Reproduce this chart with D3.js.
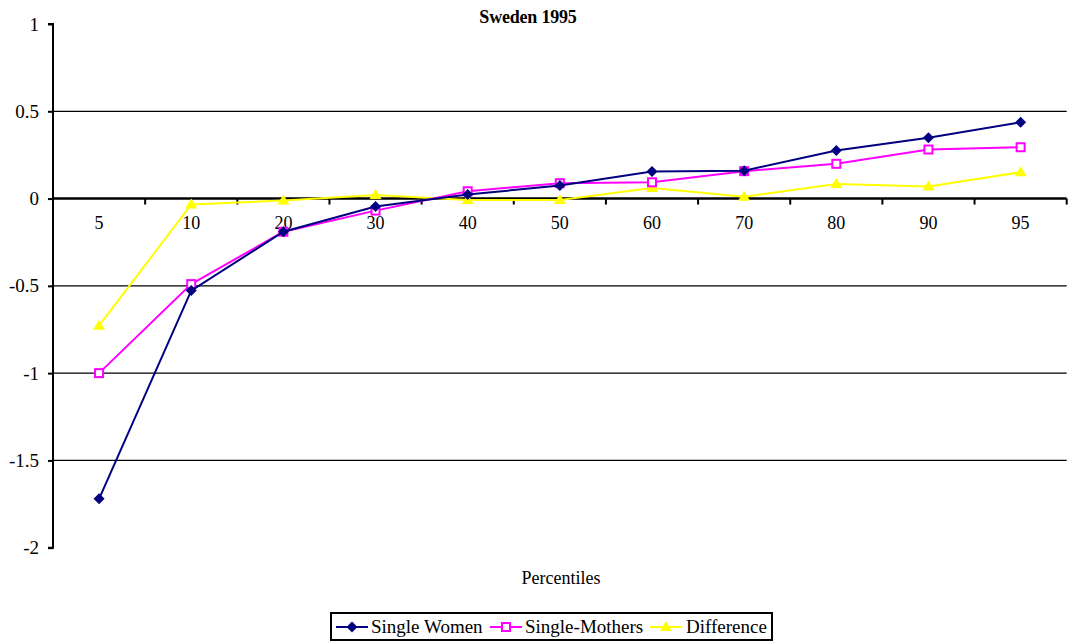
<!DOCTYPE html>
<html>
<head>
<meta charset="utf-8">
<script src="https://cdn.jsdelivr.net/npm/d3@7"></script>
<style>
  html, body { margin: 0; padding: 0; background: #fff; }
  svg { display: block; }
</style>
</head>
<body>
<script>
const categories = ["5", "10", "20", "30", "40", "50", "60", "70", "80", "90", "95"];
const singleWomen = [-1.72, -0.527, -0.19, -0.046, 0.023, 0.075, 0.155, 0.16, 0.275, 0.348, 0.437];
const singleMothers = [-1.0, -0.49, -0.19, -0.069, 0.042, 0.088, 0.093, 0.157, 0.199, 0.281, 0.294];
const difference = [-0.728, -0.034, -0.011, 0.021, -0.008, -0.008, 0.061, 0.011, 0.084, 0.069, 0.151];
const yTicks = [1, 0.5, 0, -0.5, -1, -1.5, -2];
const seriesNames = ["Single Women", "Single-Mothers", "Difference"];

const FONT = "'Liberation Serif', 'DejaVu Serif', 'Times New Roman', serif";
const W = 1069, H = 643;
const pLeft = 53, pRight = 1066.7, pTop = 24, pBottom = 547.7;

const svg = d3.select("body").append("svg").attr("width", W).attr("height", H);

const x = d3.scaleBand().domain(categories).range([pLeft, pRight]).padding(0);
const y = d3.scaleLinear().domain([-2, 1]).range([pBottom, pTop]);

// Gridlines
svg.append("g").selectAll("line")
  .data(yTicks.filter(v => v !== 1 && v !== -2 && v !== 0))
  .join("line")
  .attr("x1", pLeft).attr("x2", pRight)
  .attr("y1", d => y(d)).attr("y2", d => y(d))
  .attr("stroke", "#000").attr("stroke-width", 1.2);

// Y axis
const yAxis = d3.axisLeft(y).tickValues(yTicks).tickSize(5).tickPadding(9)
  .tickFormat(d => String(d));
const gy = svg.append("g").attr("transform", `translate(${pLeft},0)`).call(yAxis);
gy.attr("font-family", null);
gy.select(".domain").attr("stroke", "#000").attr("stroke-width", 2).attr("d", `M-5,${y(1)}H0V${y(-2)}H-5`);
gy.selectAll(".tick line").attr("stroke", "#000").attr("stroke-width", 2);
gy.selectAll(".tick text").style("font-size", "19px").style("font-family", FONT).attr("fill", "#000");

// X axis at zero
const xAxis = d3.axisBottom(x).tickSize(0).tickPadding(18);
const gx = svg.append("g").attr("transform", `translate(0,${y(0)})`).call(xAxis);
gx.attr("font-family", null);
gx.select(".domain").attr("stroke", "#000").attr("stroke-width", 2.5).attr("d", `M${pLeft},0H${pRight}`);
gx.selectAll(".tick text").style("font-size", "18px").style("font-family", FONT).attr("fill", "#000");
// boundary ticks
gx.append("g").selectAll("line")
  .data(categories.map((c, i) => i + 1))
  .join("line")
  .attr("x1", i => pLeft + x.step() * i).attr("x2", i => pLeft + x.step() * i)
  .attr("y1", 0).attr("y2", 6)
  .attr("stroke", "#000").attr("stroke-width", 2);

const cx = c => x(c) + x.bandwidth() / 2;
const line = d3.line().x((d, i) => cx(categories[i])).y(d => y(d));

const series = [
  { name: seriesNames[0], values: singleWomen, color: "#000080", marker: "diamond" },
  { name: seriesNames[1], values: singleMothers, color: "#FF00FF", marker: "square" },
  { name: seriesNames[2], values: difference, color: "#FFFF00", marker: "triangle" }
];

function drawMarker(g, type, color, px, py) {
  if (type === "diamond") {
    g.append("path").attr("d", `M${px},${py - 5.5}L${px + 5.5},${py}L${px},${py + 5.5}L${px - 5.5},${py}Z`)
      .attr("fill", color);
  } else if (type === "square") {
    g.append("rect").attr("x", px - 4).attr("y", py - 4).attr("width", 8).attr("height", 8)
      .attr("fill", "#fff").attr("stroke", color).attr("stroke-width", 2);
  } else {
    g.append("path").attr("d", `M${px},${py - 6}L${px + 6},${py + 4}L${px - 6},${py + 4}Z`).attr("fill", color);
  }
}

[series[2], series[1], series[0]].forEach(s => {
  const g = svg.append("g");
  g.append("path").datum(s.values).attr("d", line)
    .attr("fill", "none").attr("stroke", s.color).attr("stroke-width", 2);
  s.values.forEach((v, i) => drawMarker(g, s.marker, s.color, cx(categories[i]), y(v)));
});

// Title
svg.append("text").attr("x", 528).attr("y", 23).attr("text-anchor", "middle")
  .style("font-family", FONT)
  .style("font-size", "18px").style("font-weight", "bold").style("letter-spacing", "-0.2px")
  .text("Sweden 1995");

// X axis title
svg.append("text").attr("x", 561).attr("y", 584).attr("text-anchor", "middle")
  .style("font-family", FONT)
  .style("font-size", "18px").text("Percentiles");

// Legend
const lg = svg.append("g");
lg.append("rect").attr("x", 331).attr("y", 613).attr("width", 441).attr("height", 27)
  .attr("fill", "#fff").attr("stroke", "#000").attr("stroke-width", 2);
const legendItems = [
  { s: series[0], lx: 336, tx: 371 },
  { s: series[1], lx: 490, tx: 525 },
  { s: series[2], lx: 650, tx: 686 }
];
legendItems.forEach(it => {
  const ly = 627;
  lg.append("line").attr("x1", it.lx).attr("x2", it.lx + 32).attr("y1", ly).attr("y2", ly)
    .attr("stroke", it.s.color).attr("stroke-width", 2);
  drawMarker(lg, it.s.marker, it.s.color, it.lx + 16, ly);
  lg.append("text").attr("x", it.tx).attr("y", ly + 6)
    .style("font-family", FONT).style("font-size", "19px").text(it.s.name);
});
</script>
</body>
</html>
